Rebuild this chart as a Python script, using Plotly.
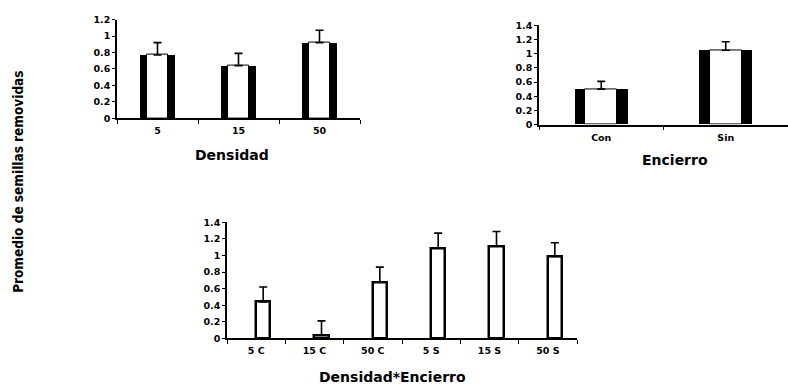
import plotly.graph_objects as go

# ---- data ----
dens_cats = ["5", "15", "50"]
dens_vals = [0.77, 0.64, 0.92]
dens_err = [0.15, 0.15, 0.15]

enc_cats = ["Con", "Sin"]
enc_vals = [0.50, 1.05]
enc_err = [0.11, 0.12]

inter_cats = ["5 C", "15 C", "50 C", "5 S", "15 S", "50 S"]
inter_vals = [0.44, 0.04, 0.68, 1.09, 1.115, 0.99]
inter_err = [0.18, 0.17, 0.18, 0.18, 0.175, 0.165]

y_label = "Promedio de semillas removidas"
W, H = 788, 388

FONT = "DejaVu Sans"
tickf = dict(family=FONT, size=9.5, color="black", weight="bold")

fig = go.Figure()

def err(vals):
    return dict(type="data", array=vals, arrayminus=[0] * len(vals), symmetric=False,
                color="black", thickness=1.6, width=4)

# top-left: Densidad
fig.add_trace(go.Bar(x=dens_cats, y=dens_vals, width=0.43, marker=dict(color="black", line=dict(width=0)),
                     xaxis="x", yaxis="y", showlegend=False, hoverinfo="skip"))
fig.add_trace(go.Bar(x=dens_cats, y=dens_vals, width=0.26,
                     marker=dict(color="white", line=dict(color="black", width=1)),
                     error_y=err(dens_err), xaxis="x", yaxis="y", showlegend=False))

# top-right: Encierro
fig.add_trace(go.Bar(x=enc_cats, y=enc_vals, width=0.424, marker=dict(color="black", line=dict(width=0)),
                     xaxis="x2", yaxis="y2", showlegend=False, hoverinfo="skip"))
fig.add_trace(go.Bar(x=enc_cats, y=enc_vals, width=0.256,
                     marker=dict(color="white", line=dict(color="black", width=1)),
                     error_y=err(enc_err), xaxis="x2", yaxis="y2", showlegend=False))

# bottom: Densidad*Encierro
fig.add_trace(go.Bar(x=inter_cats, y=inter_vals, width=0.25, offset=-0.005,
                     marker=dict(color="white", line=dict(color="black", width=2.5)),
                     error_y=err(inter_err), xaxis="x3", yaxis="y3", showlegend=False))

def xax(domain, anchor, rng):
    return dict(domain=domain, anchor=anchor, type="category", range=rng,
                showline=True, linecolor="black", linewidth=1.5, ticks="outside",
                tickson="boundaries", ticklen=4, tickcolor="black", tickwidth=1.2,
                tickfont=tickf, showgrid=False, zeroline=False, fixedrange=True,
                ticklabelstandoff=3)

def yax(domain, anchor, rng, dtick):
    return dict(domain=domain, anchor=anchor, range=rng, dtick=dtick,
                showline=True, linecolor="black", linewidth=1.5, ticks="outside",
                ticklen=3, tickcolor="black", tickwidth=1.2, tickfont=tickf,
                showgrid=False, zeroline=False, fixedrange=True, ticklabelstandoff=0)

fig.update_layout(
    width=W, height=H, margin=dict(l=0, r=0, t=0, b=0),
    paper_bgcolor="white", plot_bgcolor="white",
    barmode="overlay", bargap=0,
    xaxis=xax([117 / W, 360 / W], "y", [-0.5, 2.5]),
    yaxis=yax([(H - 115.6) / H, (H - 14) / H], "x", [0, 1.2], 0.2),
    xaxis2=xax([539 / W, 788 / W], "y2", [-0.5, 1.5]),
    yaxis2=yax([(H - 122) / H, (H - 20) / H], "x2", [0, 1.4], 0.2),
    xaxis3=xax([227 / W, 577 / W], "y3", [-0.5, 5.5]),
    yaxis3=yax([(H - 342) / H, (H - 222.7) / H], "x3", [0, 1.4], 0.2),
)

titlef = dict(family=FONT, size=14, color="black", weight="bold")
fig.add_annotation(text="Densidad", x=232 / W, y=(H - 153) / H, xref="paper", yref="paper",
                   showarrow=False, font=titlef, xanchor="center", yanchor="middle")
fig.add_annotation(text="Encierro", x=675 / W, y=(H - 159) / H, xref="paper", yref="paper",
                   showarrow=False, font=titlef, xanchor="center", yanchor="middle")
fig.add_annotation(text="Densidad*Encierro", x=392 / W, y=(H - 382) / H, xref="paper", yref="paper",
                   showarrow=False, font=titlef, xanchor="center", yanchor="middle")
fig.add_annotation(text=y_label, x=18 / W, y=(H - 181) / H, xref="paper", yref="paper",
                   showarrow=False, textangle=-90, xanchor="center", yanchor="middle",
                   font=dict(family="DejaVu Sans Condensed, Liberation Sans", size=13.5,
                             color="black", weight="bold"))

fig.write_html("out.html", config={"displayModeBar": False},
               post_script="document.body.style.margin='0px';document.body.style.overflow='hidden';")
